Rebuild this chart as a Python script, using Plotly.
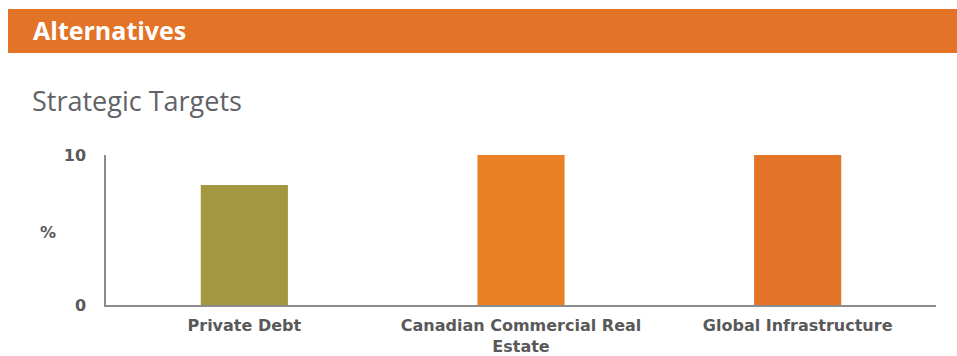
import plotly.graph_objects as go

categories = ["Private Debt", "Canadian Commercial Real<br>Estate", "Global Infrastructure"]
values = [8, 10, 10]
bar_colors = ["#A39742", "#E98124", "#E37326"]
tick_vals = [0, 10]
tick_text = ["0", "10"]

W, H = 957, 356
L, R, T, B = 106, 21, 155, 51
pw, ph = W - L - R, H - T - B

def px(x):
    return (x - L) / pw

def py(y):
    return (H - B - y) / ph

label_font = dict(size=16, family="DejaVu Sans, sans-serif", color="#595959", weight="bold")

fig = go.Figure(go.Bar(x=categories, y=values, marker=dict(color=bar_colors, line=dict(width=0)),
                       width=0.315, hoverinfo="skip"))

fig.update_layout(
    width=W, height=H,
    margin=dict(l=L, r=R, t=T, b=B),
    paper_bgcolor="white", plot_bgcolor="white",
    showlegend=False,
    font=dict(family="DejaVu Sans, sans-serif", color="#595959"),
    xaxis=dict(showgrid=False, showline=True, linecolor="#8c8c8c", linewidth=1.5,
               tickfont=label_font, automargin=False,
               ticks="", ticklabelstandoff=5, fixedrange=True),
    yaxis=dict(range=[0, 10], tickvals=tick_vals, ticktext=tick_text, showgrid=False,
               showline=True, linecolor="#8c8c8c", linewidth=1.5, zeroline=False,
               tickfont=label_font, automargin=False,
               ticks="", ticklabelstandoff=15, fixedrange=True),
    shapes=[dict(type="rect", xref="paper", yref="paper",
                 x0=px(8), x1=px(957), y0=py(53), y1=py(9),
                 fillcolor="#E37326", line=dict(width=0), layer="below")],
    annotations=[
        dict(text="<b>Alternatives</b>", xref="paper", yref="paper", x=px(31), y=py(30),
             xanchor="left", yanchor="middle", showarrow=False,
             font=dict(size=25, color="white", family="Open Sans, Noto Sans, sans-serif")),
        dict(text="Strategic Targets", xref="paper", yref="paper", x=px(30), y=py(100),
             xanchor="left", yanchor="middle", showarrow=False,
             font=dict(size=27, color="#5f6368", family="Open Sans, Noto Sans, sans-serif")),
        dict(text="<b>%</b>", xref="paper", yref="paper", x=px(48), y=py(232),
             xanchor="center", yanchor="middle", showarrow=False,
             font=label_font),
    ],
)

fig.write_html("out.html")
